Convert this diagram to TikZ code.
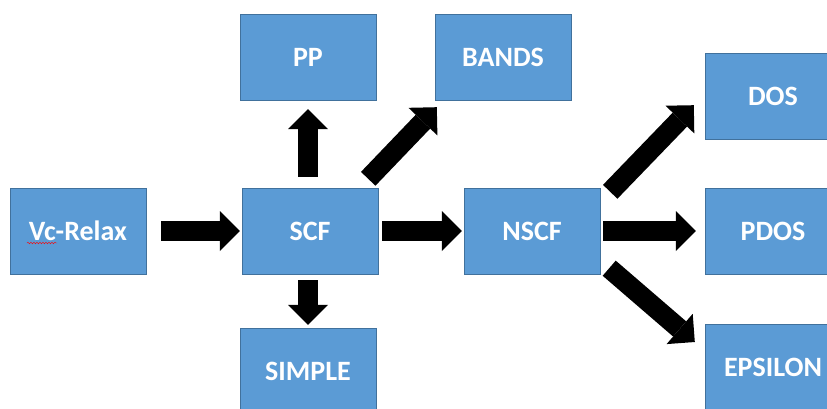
\documentclass[tikz,border=0pt]{standalone}
\usepackage{fontspec}
\setmainfont{Carlito}
\usetikzlibrary{arrows.meta,decorations.pathmorphing}
\definecolor{boxblue}{HTML}{5B9BD5}
\definecolor{boxline}{HTML}{41719C}

\begin{document}
\begin{tikzpicture}[x=1pt,y=-1pt,
  stage/.style={draw=boxline,fill=boxblue,text=white,font=\fontsize{28}{32}\selectfont\bfseries,
    minimum width=136pt,minimum height=86pt,inner sep=0pt},
  flow/.style={line width=20pt,-{Triangle[line width=0pt,width=40pt,length=20pt]}}]
  \useasboundingbox (0,0) rectangle (827,408);
  \clip (0,0) rectangle (827,408);
  % stages
  \node[stage] (vc) at (78,231) {Vc-Relax};
  \node[stage] (scf) at (310,231) {SCF};
  \node[stage] (pp) at (308,57) {PP};
  \node[stage] (bands) at (503,57) {BANDS};
  \node[stage] (simple) at (308,371) {SIMPLE};
  \node[stage] (nscf) at (532,231) {NSCF};
  \node[stage] (dos) at (773,96) {DOS};
  \node[stage] (pdos) at (773,231) {PDOS};
  \node[stage] (eps) at (773,367) {EPSILON};
  \draw[red,decorate,decoration={snake,amplitude=0.8pt,segment length=3pt}]
    ([shift={(-51,12)}]vc.center) -- ([shift={(-21,12)}]vc.center);
  % arrows
  \draw[flow,shorten <=15pt,shorten >=2pt] (vc.east) -- (scf.west);
  \draw[flow,shorten <=11pt,shorten >=9pt] (pp.south |- scf.north) -- (pp.south);
  \draw[flow,shorten <=6pt,shorten >=3pt] (simple.north |- scf.south) -- (simple.north);
  \draw[flow] ([shift={(-10,-9)}]scf.north east) -- ([shift={(2,7)}]bands.south west);
  \draw[flow,shorten <=4pt,shorten >=2pt] (scf.east) -- (nscf.west);
  \draw[flow] ([shift={(10,4)}]nscf.north east) -- ([shift={(-11,-34)}]dos.south west);
  \draw[flow,shorten <=3pt,shorten >=9pt] (nscf.east) -- (pdos.west);
  \draw[flow] ([shift={(9,-6)}]nscf.south east) -- ([shift={(-10,-25)}]eps.west);
\end{tikzpicture}
\end{document}
